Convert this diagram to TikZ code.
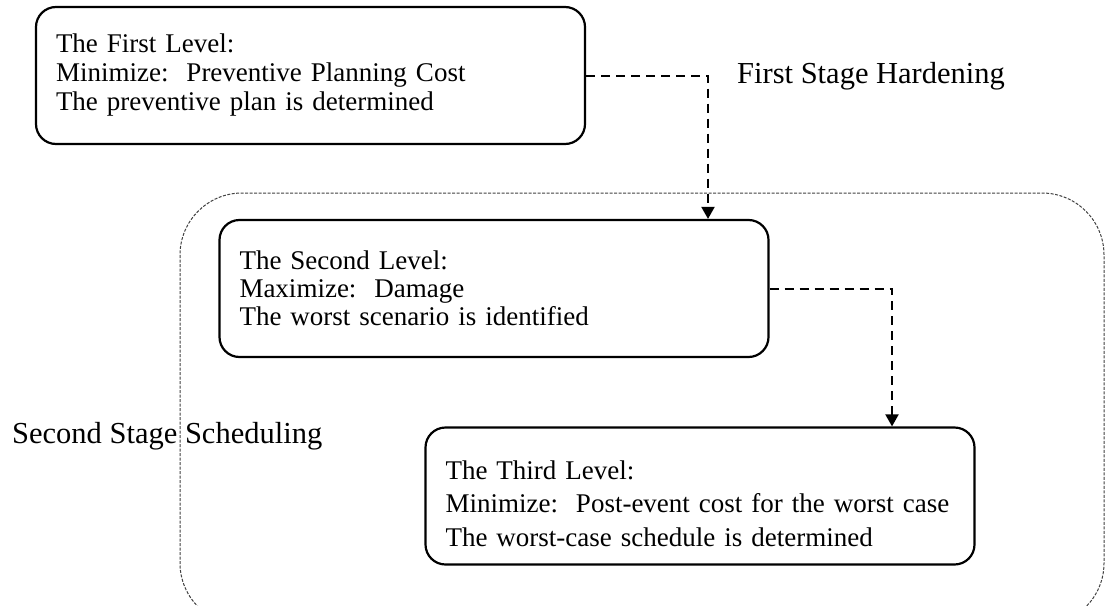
\documentclass[tikz,border=0pt]{standalone}
\usepackage{fontspec}
\setmainfont{Liberation Serif}
\usetikzlibrary{arrows.meta}
\begin{document}
\begin{tikzpicture}[x=1pt,y=-1pt,
  levelbox/.style={draw=black, line width=2.2pt, rounded corners=20pt,
    minimum width=549pt, minimum height=137pt, inner xsep=20pt, inner ysep=0pt,
    text width=509pt, align=left},
  flow/.style={draw=black, line width=2pt, dash pattern=on 9pt off 6pt,
    -{Triangle[length=12pt,width=13pt]}},
  stagebox/.style={draw=black!75, line width=1pt, dash pattern=on 3pt off 1.5pt, rounded corners=62pt},
  stagelabel/.style={font=\fontsize{30.5}{34}\selectfont, inner sep=0pt, anchor=base west}
]
\useasboundingbox (0,0) rectangle (1105,605);
\begin{scope}
  \clip (0,0) rectangle (1105,605);
  \draw[stagebox] (180,193) rectangle (1104,625);
\end{scope}
\node[levelbox, font=\fontsize{27}{29}\selectfont] (L1) at (310.5,75.5) {The First Level:\\Minimize:\ \ Preventive Planning Cost\\The preventive plan is determined};
\node[levelbox, font=\fontsize{27}{28}\selectfont] (L2) at (494,288.5) {The Second Level:\\Maximize:\ \ Damage\\The worst scenario is identified};
\node[levelbox, font=\fontsize{27}{33.5}\selectfont] (L3) at (700,496) {\rule{0pt}{34pt}The Third Level:\\Minimize:\ \ Post-event cost for the worst case\\The worst-case schedule is determined};
\draw[flow] (L1.east) -| ([xshift=214pt]L2.north);
\draw[flow] (L2.east) -| ([xshift=192pt]L3.north);
\node[stagelabel] (s1) at (737,83) {First Stage Hardening};
\node[stagelabel] (s2) at (12,443) {Second Stage Scheduling};
\end{tikzpicture}
\end{document}
